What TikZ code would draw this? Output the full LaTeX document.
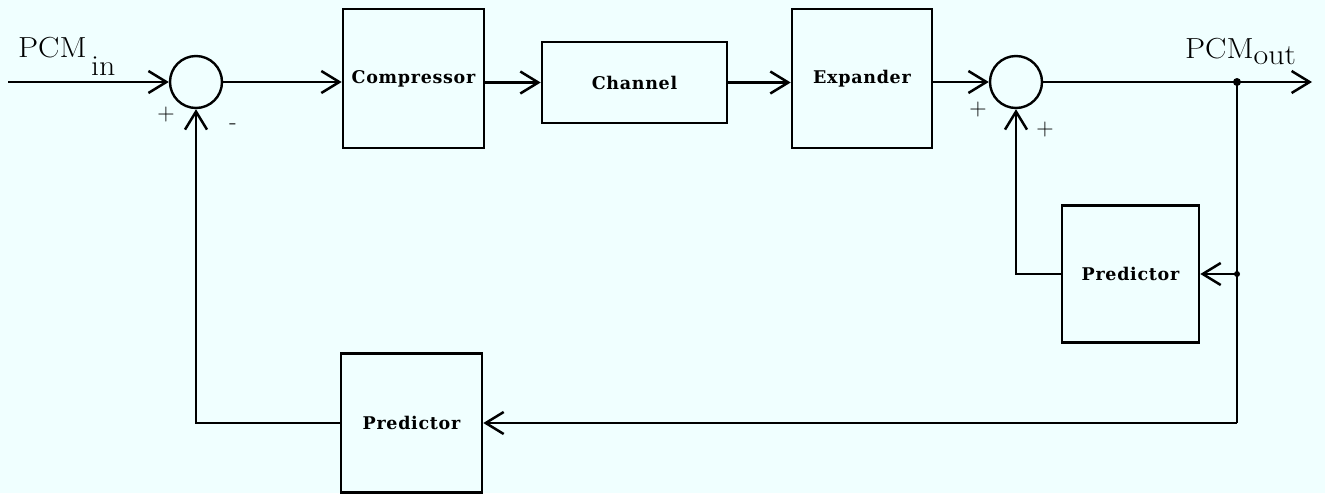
\documentclass[tikz,border=0pt]{standalone}
\usepackage{fontspec}
\newfontfamily\boxfont[LetterSpace=4]{DejaVu Serif}
\usetikzlibrary{arrows.meta}
\definecolor{paper}{RGB}{240,255,255}
\begin{document}
\begin{tikzpicture}[x=1pt,y=-1pt,
  wire/.style={line width=2.5pt},
  flow/.style={wire,-{Straight Barb[length=18pt,width=22pt]}},
  block/.style={draw,line width=2.6pt,inner sep=0pt,
    font=\boxfont\bfseries\fontsize{17.5}{20}\selectfont},
  summer/.style={draw,circle,line width=2.4pt,minimum size=52pt,inner sep=0pt},
  sign/.style={inner sep=0pt,font=\fontsize{24}{26}\selectfont},
  bigtext/.style={anchor=base west,inner sep=0pt,font=\fontsize{29}{30}\selectfont},
  dot/.style={circle,fill,inner sep=0pt,minimum size=8pt}]

% page
\fill[paper] (0,0) rectangle (1325,493);
\useasboundingbox (0,0) rectangle (1325,493);

% forward path
\node[summer] (s1) at (196,82) {};
\node[block,minimum width=141pt,minimum height=139pt] (comp) at (413.5,78.5) {Compressor};
\node[block,minimum width=185pt,minimum height=81pt] (chan) at (634.5,82.5) {Channel};
\node[block,minimum width=140pt,minimum height=139pt] (exp) at (862,78.5) {Expander};
\node[summer] (s2) at (1016,82) {};

% predictors
\node[block,minimum width=137pt,minimum height=137pt] (predR) at (1130.5,274) {Predictor};
\node[block,minimum width=141pt,minimum height=139pt] (predB) at (411.5,423) {Predictor};

% free ends and branch points
\coordinate (in) at (8,82);
\coordinate (out) at (1312,82);
\coordinate (j1) at (1237,82);
\coordinate (j2) at (j1 |- predR.east);
\coordinate (j3) at (j1 |- predB.east);

% connectors
\draw[flow] (in) -- (s1);
\draw[flow] (s1) -- (s1 -| comp.west);
\draw[flow] (comp.east |- chan.west) -- (chan.west);
\draw[flow] (chan.east) -- (chan.east -| exp.west);
\draw[flow] (exp.east |- s2) -- (s2);
\draw[flow] (s2) -- (out);
\draw[wire] (j1) -- (j3);
\draw[flow] (j2) -- (predR.east);
\draw[flow] (j3) -- (predB.east);
\draw[flow] (predR.west) -| (s2.south);
\draw[flow] (predB.west) -| (s1.south);
\node[dot] (d1) at (j1) {};
\node[dot,minimum size=6pt] (d2) at (j2) {};

% signal names (wide setting)
\node[bigtext] (pin) at (18,57) {\scalebox{1.1}[1]{PCM\kern4pt\raisebox{-18pt}{in}}};
\node[bigtext] (pout) at (1185,58) {\scalebox{1.1}[1]{PCM\raisebox{-6pt}{out}}};

% summing signs
\node[sign] (p1) at (166,115) {+};
\node[sign] (m1) at (233,127) {-};
\node[sign] (p2) at (978,110) {+};
\node[sign] (p3) at (1045,130) {+};
\end{tikzpicture}
\end{document}
